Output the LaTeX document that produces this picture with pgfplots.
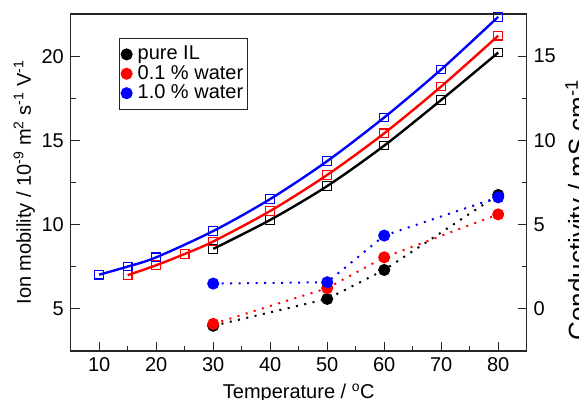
\documentclass[border=0pt]{standalone}
\usepackage{pgfplots}
\pgfplotsset{compat=1.18}
\usepackage{fontspec}
\setmainfont{Liberation Sans}
\begin{document}
\fontsize{20bp}{23bp}\selectfont
\begin{tikzpicture}
\pgfplotsset{
  every axis/.append style={
    scale only axis, width=456bp, height=337bp,
    xmin=5, xmax=85,
    font=\fontsize{20bp}{23bp}\selectfont,
    /pgf/number format/assume math mode=true,
    axis line style={black!85, line width=1.2bp},
    tick style={black!85, line width=1bp},
    major tick length=9bp, minor tick length=5bp,
    tick align=inside,
  }
}
\begin{axis}[
  name=ax,
  ymin=2.5, ymax=22.5,
  xtick={10,20,...,80}, minor xtick={15,25,...,75},
  ytick={5,10,15,20}, minor ytick={7.5,12.5,17.5},
  xtick pos=bottom, ytick pos=left,
  xlabel={Temperature / \textsuperscript{o}C},
  xlabel shift=-2bp,
  ylabel={Ion mobility / 10\textsuperscript{-9} m\textsuperscript{2} s\textsuperscript{-1} V\textsuperscript{-1}},
  ylabel shift=-7bp,
  clip=false,
]
\addplot[black, line width=2.4bp, smooth, mark=square, mark size=4.3bp, mark options={solid, line width=1.1bp, fill=white}] coordinates {
(30,8.56) (40,10.28) (50,12.29) (60,14.69) (70,17.40) (80,20.21)};
\addplot[red, line width=2.4bp, smooth, mark=square, mark size=4.3bp, mark options={solid, line width=1.1bp, fill=white}] coordinates {
(15,7.00) (20,7.59) (25,8.26) (30,9.00) (40,10.81) (50,12.95) (60,15.42) (70,18.20) (80,21.21)};
\addplot[blue, line width=2.4bp, smooth, mark=square, mark size=4.3bp, mark options={solid, line width=1.1bp, fill=white}] coordinates {
(10,7.03) (15,7.51) (20,8.06) (30,9.62) (40,11.52) (50,13.77) (60,16.36) (70,19.21) (80,22.33)};
\end{axis}
\begin{axis}[
  ymin=-2.5, ymax=17.5,
  axis x line=none,
  axis y line*=right,
  ytick={0,5,10,15}, minor ytick={2.5,7.5,12.5},
  ylabel={Conductivity / mS cm\textsuperscript{-1}},
  ylabel style={font=\fontsize{26bp}{29bp}\selectfont, at={(ticklabel cs:0.418)}},
  ylabel shift=-4bp,
  clip=false,
  legend style={at={(0.106,0.929)}, anchor=north west, draw=black!85, line width=1.2bp,
    inner xsep=2bp, inner ysep=5.5bp, row sep=-1.5bp, font=\fontsize{20bp}{23bp}\selectfont,
    /tikz/every odd column/.style={column sep=4bp}},
  legend cell align=left,
  legend image code/.code={\draw[#1] plot coordinates {(2.5bp,0bp)};},
]
\addplot[black, line width=2bp, dash pattern=on 2bp off 6.5bp, mark=*, mark size=5bp, mark options={solid}] coordinates {
(30,-1.00) (50,0.59) (60,2.31) (80,6.76)};
\addlegendentry{pure IL}
\addplot[red, line width=2bp, dash pattern=on 2bp off 6.5bp, mark=*, mark size=5bp, mark options={solid}] coordinates {
(30,-0.89) (50,1.23) (60,3.06) (80,5.61)};
\addlegendentry{0.1 \% water}
\addplot[blue, line width=2bp, dash pattern=on 2bp off 6.5bp, mark=*, mark size=5bp, mark options={solid}] coordinates {
(30,1.50) (50,1.58) (60,4.35) (80,6.62)};
\addlegendentry{1.0 \% water}
\end{axis}
\pgfresetboundingbox
\path[use as bounding box] ([xshift=-70.7bp,yshift=-48bp]ax.south west) rectangle ([xshift=52.3bp,yshift=14bp]ax.north east);
\end{tikzpicture}
\end{document}
